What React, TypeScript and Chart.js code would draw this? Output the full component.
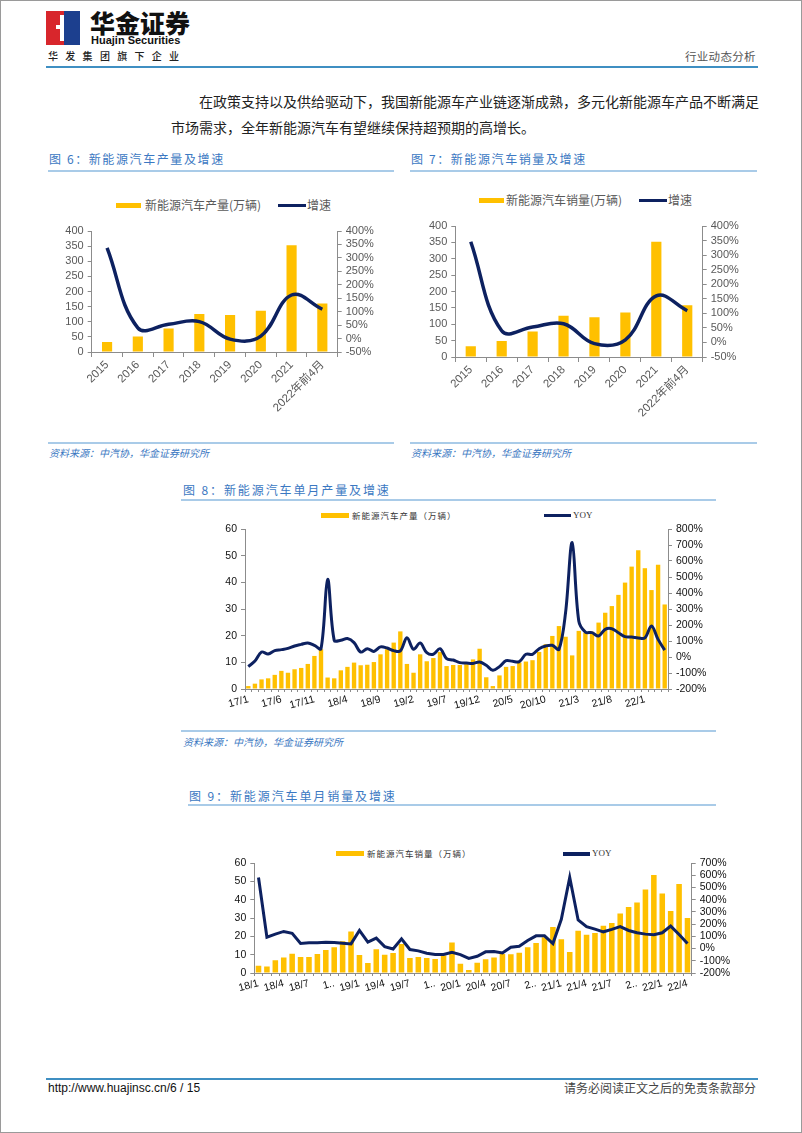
import React, { useEffect, useRef } from 'react';
import { Chart, registerables } from 'chart.js';
Chart.register(...registerables);

const NAVY = '#0d2160';
const GOLD = '#FFC000';
const AXIS = '#8c8c8c';
const BLUE_TXT = '#3b78c2';
const CJK = '"Noto Sans CJK SC", sans-serif';
const SANS = '"Liberation Sans", Arial, "Noto Sans CJK SC", sans-serif';

// ---------- 图6 / 图7 annual data ----------
const years = ['2015', '2016', '2017', '2018', '2019', '2020', '2021', '2022年前4月'];
const prodAnnual = [33, 51, 78, 126, 122, 136, 353, 160];
const prodGrowth = [337, 40, 53, 63, -2, 9, 162, 109];
const salesAnnual = [33, 49, 78, 126, 121, 136, 352, 158];
const salesGrowth = [346, 40, 53, 64, -4, 9, 160, 109];

// ---------- 图8 monthly production 17/1 - 22/4 ----------
const months8 = [
  '17/1', '17/2', '17/3', '17/4', '17/5', '17/6', '17/7', '17/8', '17/9', '17/10', '17/11', '17/12',
  '18/1', '18/2', '18/3', '18/4', '18/5', '18/6', '18/7', '18/8', '18/9', '18/10', '18/11', '18/12',
  '19/1', '19/2', '19/3', '19/4', '19/5', '19/6', '19/7', '19/8', '19/9', '19/10', '19/11', '19/12',
  '20/1', '20/2', '20/3', '20/4', '20/5', '20/6', '20/7', '20/8', '20/9', '20/10', '20/11', '20/12',
  '21/1', '21/2', '21/3', '21/4', '21/5', '21/6', '21/7', '21/8', '21/9', '21/10', '21/11', '21/12',
  '22/1', '22/2', '22/3', '22/4',
];
const prod8 = [
  1.1, 2.0, 3.6, 4.0, 5.3, 6.8, 6.1, 7.4, 7.9, 9.4, 12.4, 14.9,
  4.3, 4.0, 7.0, 8.3, 9.9, 8.9, 9.1, 10.1, 13.0, 14.9, 17.4, 21.6,
  9.4, 6.1, 13.0, 10.4, 11.6, 13.9, 8.6, 9.0, 9.0, 9.3, 11.1, 15.1,
  4.4, 1.1, 5.1, 8.3, 8.6, 9.9, 10.3, 10.8, 13.9, 16.8, 19.9, 23.6,
  19.6, 12.6, 21.8, 21.1, 21.5, 24.9, 28.6, 31.1, 35.3, 39.9, 45.9, 52.0,
  45.3, 37.1, 46.6, 31.7,
];
const yoy8 = [
  -60, -25, 31, 19, 40, 46, 54, 69, 79, 88, 73, 52,
  485, 104, 104, 115, 90, 31, 52, 35, 63, 56, 40, 38,
  121, 48, 88, 27, 17, 52, -10, -19, -35, -38, -40, -31,
  -52, -83, -60, -23, -27, -29, 17, 17, 52, 69, 73, 48,
  277, 715, 225, 156, 152, 131, 173, 177, 152, 127, 125, 119,
  119, 194, 110, 43,
];

// ---------- 图9 monthly sales 18/1 - 22/4 ----------
const months9 = [
  '18/1', '18/2', '18/3', '18/4', '18/5', '18/6', '18/7', '18/8', '18/9', '18/10', '18/11', '18/12',
  '19/1', '19/2', '19/3', '19/4', '19/5', '19/6', '19/7', '19/8', '19/9', '19/10', '19/11', '19/12',
  '20/1', '20/2', '20/3', '20/4', '20/5', '20/6', '20/7', '20/8', '20/9', '20/10', '20/11', '20/12',
  '21/1', '21/2', '21/3', '21/4', '21/5', '21/6', '21/7', '21/8', '21/9', '21/10', '21/11', '21/12',
  '22/1', '22/2', '22/3', '22/4',
];
const sales9 = [
  4.0, 3.5, 6.9, 8.4, 10.5, 8.7, 8.7, 10.4, 12.5, 14.0, 17.3, 22.7,
  9.8, 5.5, 12.9, 10.0, 10.9, 15.8, 8.2, 8.7, 8.2, 7.6, 9.6, 16.7,
  5.1, 1.6, 5.6, 7.5, 8.5, 10.4, 10.2, 11.1, 14.0, 16.4, 19.5, 25.1,
  18.4, 11.5, 23.1, 20.9, 21.8, 25.8, 27.3, 32.4, 36.0, 38.5, 45.5, 53.5,
  43.3, 33.8, 48.5, 30.0,
];
const yoy9 = [
  582, 93, 118, 140, 124, 41, 47, 47, 52, 49, 44, 38,
  148, 52, 85, 16, -3, 80, -8, -19, -38, -49, -49, -30,
  -49, -80, -63, -27, -25, -36, 11, 19, 66, 104, 104, 41,
  239, 582, 234, 179, 159, 137, 157, 179, 148, 129, 118, 113,
  129, 184, 115, 41,
];

type Dims = { padTop: number; lw: number; rw: number; xh: number };

function yAxis(pos: 'left' | 'right', min: number, max: number, step: number, width: number, pct: boolean, font: any, color: string) {
  return {
    position: pos,
    min,
    max,
    grid: { display: true, drawOnChartArea: false, drawTicks: true, tickLength: 4, color: AXIS },
    border: { display: true, color: AXIS, width: 1 },
    ticks: {
      stepSize: step,
      autoSkip: false,
      color,
      font,
      padding: 4,
      callback: (v: any) => (pct ? v + '%' : String(v)),
    },
    afterFit: (s: any) => {
      s.width = width;
    },
  };
}

function annualConfig(bars: number[], growth: number[], barLabel: string, d: Dims) {
  const font = { size: 11, family: SANS };
  return {
    type: 'bar',
    data: {
      labels: years,
      datasets: [
        {
          type: 'line',
          label: '增速',
          data: growth,
          yAxisID: 'y1',
          borderColor: NAVY,
          backgroundColor: NAVY,
          borderWidth: 3.5,
          pointRadius: 0,
          tension: 0.4,
          fill: false,
          order: 0,
        },
        {
          type: 'bar',
          label: barLabel,
          data: bars,
          yAxisID: 'y',
          backgroundColor: GOLD,
          barPercentage: 0.33,
          categoryPercentage: 1,
          order: 1,
        },
      ],
    },
    options: {
      responsive: false,
      maintainAspectRatio: false,
      animation: false,
      layout: { padding: { top: d.padTop, left: 0, right: 0, bottom: 0 } },
      plugins: { legend: { display: false }, tooltip: { enabled: false } },
      scales: {
        x: {
          grid: { display: true, drawOnChartArea: false, drawTicks: true, tickLength: 5, color: AXIS, offset: true },
          border: { display: true, color: AXIS, width: 1 },
          ticks: { autoSkip: false, minRotation: 45, maxRotation: 45, color: '#595959', font: { size: 11.5, family: SANS }, padding: 1 },
          afterFit: (s: any) => {
            s.height = d.xh;
          },
        },
        y: yAxis('left', 0, 400, 50, d.lw, false, font, '#595959'),
        y1: yAxis('right', -50, 400, 50, d.rw, true, font, '#595959'),
      },
    },
  };
}

function monthlyConfig(
  labels: string[],
  bars: number[],
  yoy: number[],
  barLabel: string,
  d: Dims,
  rMin: number,
  rMax: number,
  every: number,
  tension: number,
  tickFmt: (l: string) => string
) {
  const font = { size: 10.5, family: SANS };
  return {
    type: 'bar',
    data: {
      labels,
      datasets: [
        {
          type: 'line',
          label: 'YOY',
          data: yoy,
          yAxisID: 'y1',
          borderColor: NAVY,
          backgroundColor: NAVY,
          borderWidth: 3,
          pointRadius: 0,
          tension,
          fill: false,
          order: 0,
        },
        {
          type: 'bar',
          label: barLabel,
          data: bars,
          yAxisID: 'y',
          backgroundColor: GOLD,
          barPercentage: 0.66,
          categoryPercentage: 1,
          order: 1,
        },
      ],
    },
    options: {
      responsive: false,
      maintainAspectRatio: false,
      animation: false,
      layout: { padding: { top: d.padTop, left: 0, right: 0, bottom: 0 } },
      plugins: { legend: { display: false }, tooltip: { enabled: false } },
      scales: {
        x: {
          grid: { display: true, drawOnChartArea: false, drawTicks: true, tickLength: 3, color: AXIS, offset: true },
          border: { display: true, color: AXIS, width: 1 },
          ticks: {
            autoSkip: false,
            minRotation: 15,
            maxRotation: 15,
            color: '#111',
            font: { size: 10.5, family: SANS },
            padding: 1,
            callback: function (this: any, _v: any, i: number) {
              return i % every === 0 ? tickFmt(labels[i]) : '';
            },
          },
          afterFit: (s: any) => {
            s.height = d.xh;
          },
        },
        y: yAxis('left', 0, 60, 10, d.lw, false, font, '#111'),
        y1: yAxis('right', rMin, rMax, 100, d.rw, true, font, '#111'),
      },
    },
  };
}

function ChartBox({ left, top, width, height, make }: { left: number; top: number; width: number; height: number; make: () => any }) {
  const ref = useRef<HTMLCanvasElement>(null);
  useEffect(() => {
    const chart = new Chart(ref.current as HTMLCanvasElement, make());
    return () => chart.destroy();
  }, []);
  return (
    <div style={{ position: 'absolute', left, top, width, height }}>
      <canvas ref={ref} width={width} height={height} style={{ width, height, display: 'block' }} />
    </div>
  );
}

function Txt({ x, y, size, color = '#222', family = CJK, style = {}, children }: any) {
  return (
    <div
      style={{
        position: 'absolute',
        left: x,
        top: y - size / 2 - 1,
        fontSize: size,
        lineHeight: size + 2 + 'px',
        color,
        fontFamily: family,
        whiteSpace: 'nowrap',
        ...style,
      }}
    >
      {children}
    </div>
  );
}

function HLine({ x, y, w, h = 1, color }: any) {
  return <div style={{ position: 'absolute', left: x, top: y, width: w, height: h, background: color }} />;
}

function Box({ x, y, w, h, color }: any) {
  return <div style={{ position: 'absolute', left: x, top: y, width: w, height: h, background: color }} />;
}

export default function App() {
  return (
    <div
      style={{
        position: 'absolute',
        left: 0,
        top: 0,
        width: 802,
        height: 1133,
        background: '#fff',
        boxSizing: 'border-box',
        border: '1px solid #9a9a9a',
        overflow: 'hidden',
      }}
    >
      {/* logo */}
      <Box x={45} y={10} w={34} h={34} color="#d8262c" />
      <Box x={63} y={10} w={16} h={34} color="#1c3f8e" />
      <Box x={59} y={14} w={4} h={26} color="#ffffff" />
      <Box x={55} y={24} w={8} h={4} color="#ffffff" />
      <Txt x={89} y={21} size={25} color="#111" style={{ fontWeight: 900, letterSpacing: 0 }}>
        华金证券
      </Txt>
      <Txt x={90} y={39} size={11} color="#111" family={SANS} style={{ fontWeight: 700 }}>
        Huajin Securities
      </Txt>
      <Txt x={47} y={55} size={10} color="#222" style={{ letterSpacing: 7.3, fontWeight: 500 }}>
        华发集团旗下企业
      </Txt>
      <Txt x={684} y={56} size={11.5} color="#555" style={{ letterSpacing: 0.3 }}>
        行业动态分析
      </Txt>
      <HLine x={45} y={65} w={712} h={2} color="#3f8fc2" />

      {/* paragraph */}
      <Txt x={198} y={100} size={14} color="#222">
        在政策支持以及供给驱动下，我国新能源车产业链逐渐成熟，多元化新能源车产品不断满足
      </Txt>
      <Txt x={170} y={126} size={14} color="#222">
        市场需求，全年新能源汽车有望继续保持超预期的高增长。
      </Txt>

      {/* 图6 */}
      <Txt x={48} y={158} size={12} color={BLUE_TXT} style={{ letterSpacing: 1.6 }}>
        图 6：新能源汽车产量及增速
      </Txt>
      <HLine x={47} y={169} w={346} h={1.5} color="#a9cbe8" />
      <Box x={115} y={202} w={25} h={5} color={GOLD} />
      <Txt x={144} y={204} size={12} color="#595959">
        新能源汽车产量(万辆)
      </Txt>
      <Box x={277} y={202.5} w={28} h={3.5} color={NAVY} />
      <Txt x={306} y={204} size={12} color="#595959">
        增速
      </Txt>
      <ChartBox
        left={40}
        top={215}
        width={350}
        height={225}
        make={() => annualConfig(prodAnnual, prodGrowth, '新能源汽车产量(万辆)', { padTop: 15, lw: 50.7, rw: 53.3, xh: 89 })}
      />
      <HLine x={47} y={441} w={346} h={1.5} color="#a9cbe8" />
      <Txt x={48} y={452} size={10} color={BLUE_TXT} style={{ fontStyle: 'italic' }}>
        资料来源：中汽协，华金证券研究所
      </Txt>

      {/* 图7 */}
      <Txt x={410} y={158} size={12} color={BLUE_TXT} style={{ letterSpacing: 1.6 }}>
        图 7：新能源汽车销量及增速
      </Txt>
      <HLine x={409} y={169} w={347} h={1.5} color="#a9cbe8" />
      <Box x={478} y={197} w={25} h={5} color={GOLD} />
      <Txt x={505} y={199} size={12} color="#595959">
        新能源汽车销量(万辆)
      </Txt>
      <Box x={638} y={197.5} w={28} h={3.5} color={NAVY} />
      <Txt x={667} y={199} size={12} color="#595959">
        增速
      </Txt>
      <ChartBox
        left={405}
        top={210}
        width={350}
        height={225}
        make={() => annualConfig(salesAnnual, salesGrowth, '新能源汽车销量(万辆)', { padTop: 15, lw: 49.3, rw: 53.3, xh: 79 })}
      />
      <HLine x={409} y={441} w={347} h={1.5} color="#a9cbe8" />
      <Txt x={410} y={452} size={10} color={BLUE_TXT} style={{ fontStyle: 'italic' }}>
        资料来源：中汽协，华金证券研究所
      </Txt>

      {/* 图8 */}
      <Txt x={182} y={489} size={12} color={BLUE_TXT} style={{ letterSpacing: 1.9 }}>
        图 8：新能源汽车单月产量及增速
      </Txt>
      <HLine x={180} y={498} w={535} h={1.5} color="#a9cbe8" />
      <Box x={320} y={512} w={28} h={5} color={GOLD} />
      <Txt x={351} y={514} size={8.5} color="#333" style={{ letterSpacing: 1 }}>
        新能源汽车产量（万辆）
      </Txt>
      <Box x={543} y={512.5} w={27} h={3.5} color={NAVY} />
      <Txt x={572} y={514} size={9} color="#333" family='"Liberation Serif", serif'>
        YOY
      </Txt>
      <ChartBox
        left={180}
        top={505}
        width={545}
        height={220}
        make={() =>
          monthlyConfig(months8, prod8, yoy8, '新能源汽车产量（万辆）', { padTop: 23, lw: 64, rw: 58, xh: 37 }, -200, 800, 5, 0.35, (l) => l)
        }
      />
      <HLine x={180} y={729} w={535} h={1.5} color="#a9cbe8" />
      <Txt x={182} y={741} size={10} color={BLUE_TXT} style={{ fontStyle: 'italic' }}>
        资料来源：中汽协，华金证券研究所
      </Txt>

      {/* 图9 */}
      <Txt x={188} y={795} size={12} color={BLUE_TXT} style={{ letterSpacing: 1.9 }}>
        图 9：新能源汽车单月销量及增速
      </Txt>
      <HLine x={187} y={803} w={528} h={1.5} color="#a9cbe8" />
      <Box x={335} y={850} w={28} h={5} color={GOLD} />
      <Txt x={366} y={852.5} size={8.5} color="#333" style={{ letterSpacing: 1 }}>
        新能源汽车销量（万辆）
      </Txt>
      <Box x={562} y={851} w={27} h={3.5} color={NAVY} />
      <Txt x={591} y={852.5} size={9} color="#333" family='"Liberation Serif", serif'>
        YOY
      </Txt>
      <ChartBox
        left={180}
        top={845}
        width={560}
        height={155}
        make={() =>
          monthlyConfig(months9, sales9, yoy9, '新能源汽车销量（万辆）', { padTop: 17, lw: 73.3, rw: 49.3, xh: 28 }, -200, 700, 3, 0, (l) =>
            l.endsWith('/10') ? l.charAt(0) + '..' : l
          )
        }
      />

      {/* footer */}
      <HLine x={45} y={1077} w={712} h={1.5} color="#3f8fc2" />
      <Txt x={47} y={1087} size={12} color="#111" family={SANS}>
        http://www.huajinsc.cn/6 / 15
      </Txt>
      <Txt x={563} y={1087} size={12} color="#444">
        请务必阅读正文之后的免责条款部分
      </Txt>
    </div>
  );
}
